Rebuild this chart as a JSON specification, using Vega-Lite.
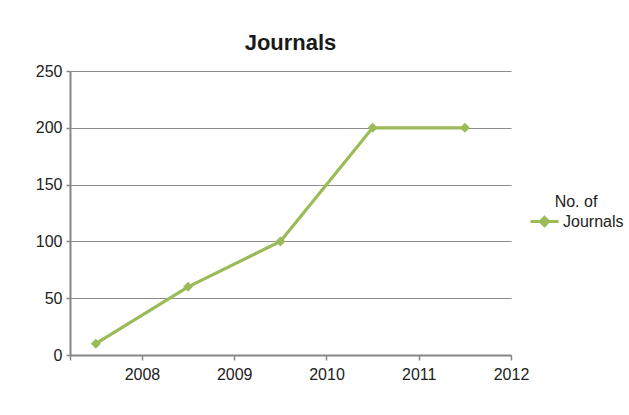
{
  "$schema": "https://vega.github.io/schema/vega-lite/v6.json",
  "width": 441,
  "height": 284,
  "autosize": "none",
  "padding": {"left": 70, "top": 71, "right": 118, "bottom": 60},
  "background": "white",
  "config": {
    "font": "Liberation Sans",
    "view": {"stroke": null}
  },
  "title": {
    "text": "Journals",
    "fontSize": 22,
    "fontWeight": "bold",
    "color": "#1a1a1a",
    "anchor": "middle",
    "offset": 8
  },
  "data": {
    "values": [
      {"year": 2007.5, "value": 10, "series": "No. of Journals"},
      {"year": 2008.5, "value": 60, "series": "No. of Journals"},
      {"year": 2009.5, "value": 100, "series": "No. of Journals"},
      {"year": 2010.5, "value": 200, "series": "No. of Journals"},
      {"year": 2011.5, "value": 200, "series": "No. of Journals"}
    ]
  },
  "mark": {
    "type": "line",
    "strokeWidth": 3.2,
    "point": {"filled": true, "shape": "diamond", "size": 100, "color": "#9BBB59"}
  },
  "encoding": {
    "x": {
      "field": "year",
      "type": "quantitative",
      "scale": {"domain": [2007.22, 2012], "nice": false, "zero": false},
      "axis": {
        "title": null,
        "values": [2007.22, 2008, 2009, 2010, 2011, 2012],
        "labelExpr": "datum.value < 2007.5 ? '' : format(datum.value, 'd')",
        "grid": false,
        "domainColor": "#868686",
        "domainWidth": 2,
        "tickColor": "#868686",
        "tickWidth": 1.5,
        "tickSize": 5,
        "labelFontSize": 16,
        "labelColor": "#222222",
        "labelPadding": 6,
        "labelFlush": false
      }
    },
    "y": {
      "field": "value",
      "type": "quantitative",
      "scale": {"domain": [0, 250], "nice": false},
      "axis": {
        "title": null,
        "values": [0, 50, 100, 150, 200, 250],
        "grid": true,
        "gridColor": "#8c8c8c",
        "gridWidth": 1,
        "domainColor": "#868686",
        "domainWidth": 2,
        "tickColor": "#868686",
        "tickWidth": 1.5,
        "tickSize": 4,
        "labelFontSize": 16,
        "labelColor": "#222222",
        "labelPadding": 4
      }
    },
    "color": {
      "field": "series",
      "type": "nominal",
      "scale": {"range": ["#9BBB59"]},
      "legend": {
        "title": "\u00a0\u00a0\u00a0\u00a0No. of",
        "titleFontSize": 16,
        "titleFontWeight": "normal",
        "titleColor": "#222222",
        "titleAnchor": "middle",
        "titlePadding": -4,
        "padding": 0,
        "orient": "none",
        "legendX": 459,
        "legendY": 123,
        "symbolType": "M-1,0H1M0,-0.3L0.3,0L0,0.3L-0.3,0Z",
        "symbolSize": 784,
        "symbolStrokeWidth": 3,
        "symbolFillColor": "#9BBB59",
        "symbolStrokeColor": "#9BBB59",
        "labelExpr": "'Journals'",
        "labelFontSize": 16,
        "labelColor": "#222222",
        "labelAlign": "left",
        "labelOffset": 3,
        "labelLimit": 200
      }
    }
  }
}
